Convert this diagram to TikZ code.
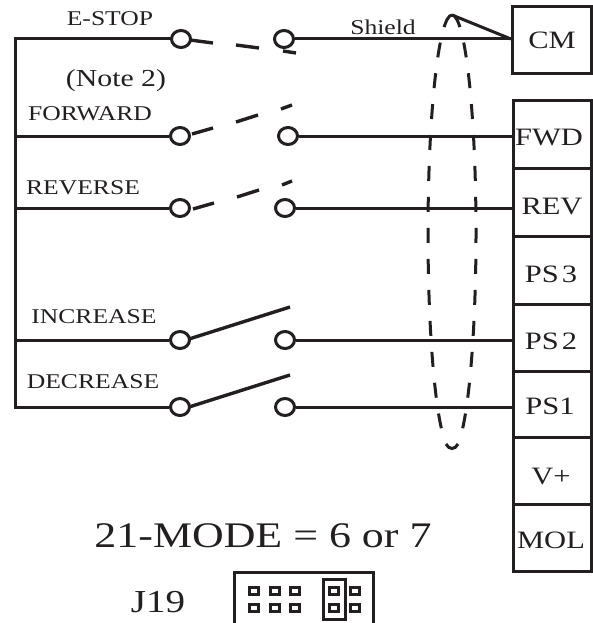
\documentclass[tikz,border=0pt]{standalone}
\usepackage{fontspec}
\setmainfont[FakeStretch=1.22]{Liberation Serif}
\usetikzlibrary{shapes.geometric}
\definecolor{ink}{HTML}{231F20}
\tikzset{
  x=1pt,y=-1pt,
  wire/.style={draw=ink,line width=3pt},
  blade/.style={draw=ink,line width=3.4pt},
  term/.style={ellipse,draw=ink,line width=3pt,fill=white,minimum width=19pt,minimum height=17pt,inner sep=0pt},
  lbl/.style={text=ink,inner sep=0pt,font=\fontsize{21}{21}\selectfont},
  blk/.style={rectangle,draw=ink,line width=3pt,minimum width=78pt,inner sep=0pt,text=ink,font=\fontsize{25}{25}\selectfont},
  blklbl/.style={text=ink,inner sep=0pt,font=\fontsize{25}{25}\selectfont},
  pin/.style={rectangle,draw=ink,line width=3pt,minimum width=9pt,minimum height=6.5pt,inner sep=0pt},
  shieldline/.style={draw=ink,line width=3pt,dash pattern=on 15pt off 16pt}
}
\begin{document}
\begin{tikzpicture}
\useasboundingbox (0,0) rectangle (593,623);
% bus
\coordinate (bt) at (15,39);
\coordinate (bb) at (15,407);
% terminal blocks
\node[blk,minimum width=79pt,minimum height=67pt] (cm) at (552,40.5) {CM};
\node[blk,minimum height=67pt] (fwd) at (552,134.5) {};
\node[blk,minimum height=68pt] (rev) at (552,202) {};
\node[blk,minimum height=68pt] (ps3) at (552,270) {};
\node[blk,minimum height=67pt] (ps2) at (552,337.5) {};
\node[blk,minimum height=66pt] (ps1) at (552,404) {};
\node[blk,minimum height=67pt] (vp) at (552,470.5) {};
\node[blk,minimum height=67pt] (mol) at (552,537.5) {};
\node[blklbl] (tf) at (549,138) {FWD};
\node[blklbl] (tr) at (552,207) {REV};
\node[blklbl] (tp3) at (551,274) {PS\kern3pt 3};
\node[blklbl] (tp2) at (551,341) {PS\kern3pt 2};
\node[blklbl] (tp1) at (550,406) {PS1};
\node[blklbl] (tv) at (551,476) {V+};
\node[blklbl] (tm) at (551,540) {MOL};
% terminals
\node[term] (la) at (181,39) {};
\node[term] (ra) at (284,39) {};
\node[term] (lb) at (180,136) {};
\node[term] (rb) at (288,136) {};
\node[term] (lc) at (180,208) {};
\node[term] (rc) at (285,208) {};
\node[term] (ld) at (180,340) {};
\node[term] (rd) at (285,340) {};
\node[term] (le) at (180,407) {};
\node[term] (re) at (285,407) {};
% wires
\draw[wire,line cap=rect] (bb) -- (bt) -- (la);
\draw[wire] (15,136) -- (lb);
\draw[wire] (15,208) -- (lc);
\draw[wire] (15,340) -- (ld);
\draw[wire] (bb) -- (le);
\coordinate (cmw) at (cm.west |- ra);
\coordinate (peak) at (452,15);
\draw[wire] (ra) -- (cmw);
\draw[wire] (peak) -- (cmw);
\draw[wire] (rb) -- (fwd.west |- rb);
\draw[wire] (rc) -- (rev.west |- rc);
\draw[wire] (rd) -- (ps2.west |- rd);
\draw[wire] (re) -- (ps1.west |- re);
% switch blades
\draw[blade] (190,40) -- (213,43) (236,45) -- (259,48) (283,51) -- (296,53);
\draw[blade] (192,134) -- (213,128) (236,122) -- (258,115) (281,109) -- (292,105);
\draw[blade] (193,209) -- (214,203) (237,197) -- (259,190) (282,185) -- (292,181);
\draw[blade] (189,339) -- (290,307);
\draw[blade] (189,407) -- (290,375);
% shield
\draw[shieldline] (452,15) arc[start angle=90,end angle=270,x radius=24pt,y radius=218pt];
\draw[shieldline] (452,15) arc[start angle=90,end angle=-90,x radius=24pt,y radius=218pt];
\fill[white] (440,436) rectangle (464,455);
\draw[wire] (446,444) .. controls (449,450) and (455,450) .. (458,444);
% labels
\node[lbl] (n1) at (110,19) {E-STOP};
\node[lbl,font=\fontsize{24.4}{24}\selectfont] (n2) at (116,81) {(Note 2)};
\node[lbl] (n3) at (90,113.5) {FORWARD};
\node[lbl] (n4) at (83,187.5) {REVERSE};
\node[lbl] (n5) at (94,316.5) {INCREASE};
\node[lbl] (n6) at (93,381.5) {DECREASE};
\node[lbl] (n7) at (383,27) {Shield};
\node[lbl,font=\fontsize{36}{36}\selectfont] (n8) at (263,536) {21-MODE = 6 or 7};
\node[lbl,font=\fontsize{32}{32}\selectfont] (n9) at (158,602) {J19};
% jumper block
\coordinate (ja) at (234,623);
\coordinate (jb) at (234,572);
\coordinate (jc) at (373,572);
\coordinate (jd) at (373,623);
\draw[wire] (ja) -- (jb) -- (jc) -- (jd);
\foreach \n/\px in {a/254,b/275,c/295,d/334,e/355}{
  \node[pin] (p1\n) at (\px,591) {};
  \node[pin] (p2\n) at (\px,608) {};
}
\draw[draw=ink,line width=3pt] (323,579) rectangle (345,619);
\end{tikzpicture}
\end{document}
